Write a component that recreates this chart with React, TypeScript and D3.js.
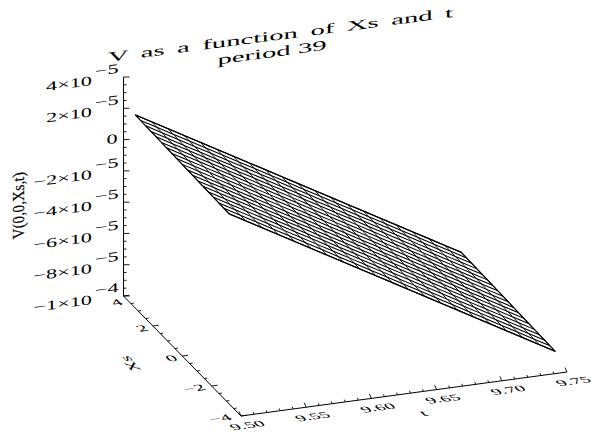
import React from "react";
import * as d3 from "d3";

const tGrid = [9.5, 9.5125, 9.525, 9.5375, 9.55, 9.5625, 9.575, 9.5875, 9.6, 9.6125, 9.625, 9.6375, 9.65, 9.6625, 9.675, 9.6875, 9.7, 9.7125, 9.725, 9.7375, 9.75];
const xsGrid = [3.2, 2.84, 2.49, 2.13, 1.78, 1.42, 1.07, 0.71, 0.36, 0, -0.36, -0.71, -1.07, -1.42, -1.78, -2.13, -2.49, -2.84, -3.2];
// V at Xs = 0 for each t, in units of 1e-6
const vMid = [22.5, 16.7, 10.9, 5.1, -0.7, -6.5, -12.3, -18.1, -23.9, -29.7, -35.5, -41.3, -47.1, -52.9, -58.7, -64.5, -70.3, -76.1, -81.9, -87.7, -93.5];
const vPerXs = 0.3; // 1e-6 per unit Xs

const vTicks = [40, 20, 0, -20, -40, -60, -80, -100];
const vMinor = [35, 30, 25, 15, 10, 5, -5, -10, -15, -25, -30, -35, -45, -50, -55, -65, -70, -75, -85, -90, -95];
const vMantissa = ["4", "2", "0", "\u22122", "\u22124", "\u22126", "\u22128", "\u22121"];
const vExponent = ["\u22125", "\u22125", "", "\u22125", "\u22125", "\u22125", "\u22125", "\u22124"];
const xsTicks = [4, 2, 0, -2, -4];
const xsMinor = [3.5, 3, 2.5, 1.5, 1, 0.5, -0.5, -1, -1.5, -2.5, -3, -3.5];
const xsLabels = ["4", "2", "0", "\u22122", "\u22124"];
const tTicks = [9.5, 9.55, 9.6, 9.65, 9.7, 9.75];
const tMinor = [9.51, 9.52, 9.53, 9.54, 9.56, 9.57, 9.58, 9.59, 9.61, 9.62, 9.63, 9.64, 9.66, 9.67, 9.68, 9.69, 9.71, 9.72, 9.73, 9.74];
const tLabels = ["9.50", "9.55", "9.60", "9.65", "9.70", "9.75"];

const FONT = "'Liberation Serif', serif";
const originX = 123.5;
const originY = 296;

// axis vectors of the oblique projection
const tPx = d3.scaleLinear().domain([9.5, 9.75]).range([0, 326]);
const tPy = d3.scaleLinear().domain([9.5, 9.75]).range([0, -44]);
const xsPx = d3.scaleLinear().domain([4, -4]).range([0, 117.5]);
const xsPy = d3.scaleLinear().domain([4, -4]).range([0, 120]);
const vPy = d3.scaleLinear().domain([-100, 40]).range([0, -219]);

const project = (t: number, xs: number, v: number): [number, number] => [
  originX + tPx(t) + xsPx(xs),
  originY + tPy(t) + xsPy(xs) + vPy(v),
];

const line = d3.line<[number, number]>();
const vAt = (i: number, xs: number) => vMid[i] + vPerXs * xs;

const longLines = xsGrid.map((xs) => tGrid.map((t, i) => project(t, xs, vAt(i, xs))));
const crossLines = tGrid.map((t, i) => xsGrid.map((xs) => project(t, xs, vAt(i, xs))));
const outline = [
  ...longLines[0],
  ...[...longLines[longLines.length - 1]].reverse(),
];
const rim = [...longLines[0], ...[...longLines[longLines.length - 1]].reverse(), longLines[0][0]];

const SLOPE = -0.135;

function Floor({ x, y, text, size = 13.5 }: { x: number; y: number; text: string; size?: number }) {
  // text lying on the t-Xs floor plane: baseline follows t, uprights follow Xs
  const m = `matrix(1.45,${1.45 * SLOPE},0.62,0.62,${x},${y})`;
  return (
    <text transform={m} fontFamily={FONT} fontSize={size} textAnchor="middle" fill="#000">
      {text}
    </text>
  );
}

export default function App() {
  const stroke = "#000";
  const xTick = (t: number, xs: number, len: number) => {
    const [a, b] = project(t, xs, -100);
    return <line key={`x${t}${xs}`} x1={a} y1={b} x2={a + len * 0.99} y2={b + len * SLOPE} stroke={stroke} strokeWidth={0.9} />;
  };
  const tTick = (t: number, len: number) => {
    const [a, b] = project(t, -4, -100);
    return <line key={`t${t}`} x1={a} y1={b} x2={a - len * 0.4} y2={b - len * 0.9} stroke={stroke} strokeWidth={0.9} />;
  };
  const vTick = (v: number, len: number) => {
    const [a, b] = project(9.5, 4, v);
    return <line key={`v${v}`} x1={a} y1={b} x2={a + len} y2={b} stroke={stroke} strokeWidth={0.9} />;
  };
  const p0 = project(9.5, 4, -100);
  const p1 = project(9.5, -4, -100);
  const p2 = project(9.75, -4, -100);
  const p3 = project(9.5, 4, 40);
  return (
    <svg width={594} height={433} style={{ position: "absolute", left: 0, top: 0, background: "#fff" }}>
      {/* title */}
      <text transform="matrix(2.05,-0.267,0,1,108,62)" fontFamily={FONT} fontSize={14} wordSpacing={2.6} fill="#000">
        V as a function of Xs and t
      </text>
      <text transform="matrix(2.05,-0.285,0,1,272,57)" fontFamily={FONT} fontSize={14} textAnchor="middle" fill="#000">
        period 39
      </text>

      {/* surface */}
      <path d={line(outline as [number, number][]) + "Z"} fill="#fff" stroke="none" />
      {longLines.map((l, i) => (
        <path key={`l${i}`} d={line(l) ?? ""} fill="none" stroke="#000" strokeWidth={1.05} />
      ))}
      {crossLines.map((l, i) => (
        <path key={`c${i}`} d={line(l) ?? ""} fill="none" stroke="#000" strokeWidth={0.9} />
      ))}
      <path d={line(rim) ?? ""} fill="none" stroke="#000" strokeWidth={1.2} />

      {/* axes */}
      <path d={line([p3, p0, p1, p2]) ?? ""} fill="none" stroke="#000" strokeWidth={1} />
      {vTicks.map((v) => vTick(v, 6))}
      {vMinor.map((v) => vTick(v, 3))}
      {xsTicks.map((x) => xTick(9.5, x, 6))}
      {xsMinor.map((x) => xTick(9.5, x, 3))}
      {tTicks.map((t) => tTick(t, 5))}
      {tMinor.map((t) => tTick(t, 2.5))}

      {/* V labels */}
      {vTicks.map((v, i) => {
        const [, y] = project(9.5, 4, v);
        const base = y + 8;
        return (
          <g key={`vl${v}`}>
            {vExponent[i] ? (
              <>
                <text transform={`matrix(1.65,${1.65 * SLOPE},0,1,92,${base})`} fontFamily={FONT} fontSize={13.5} textAnchor="end" fill="#000">
                  {`${vMantissa[i]}\u00d710`}
                </text>
                <text transform={`matrix(1.65,${1.65 * SLOPE},0,1,95,${base - 9})`} fontFamily={FONT} fontSize={13.5} fill="#000">
                  {vExponent[i]}
                </text>
              </>
            ) : (
              <text transform={`matrix(1.65,${1.65 * SLOPE},0,1,112,${base - 4})`} fontFamily={FONT} fontSize={13.5} textAnchor="middle" fill="#000">
                {vMantissa[i]}
              </text>
            )}
          </g>
        );
      })}

      {/* Xs labels */}
      {xsTicks.map((x, i) => {
        const [a, b] = project(9.5, x, -100);
        const dx = x === 4 ? -4 : x === 2 || x === 0 ? -8 : x === -2 ? -15 : -18;
        const dy = x === 4 ? 9 : 5;
        return <Floor key={`xl${x}`} x={a + dx} y={b + dy} text={xsLabels[i]} />;
      })}

      {/* t labels */}
      {tTicks.map((t, i) => {
        const [a, b] = project(t, -4, -100);
        return <Floor key={`tl${t}`} x={a + 9} y={b + 12} text={tLabels[i]} size={13} />;
      })}

      {/* axis titles */}
      <text transform="matrix(-0.85,-0.95,1,-0.13,135,363)" fontFamily={FONT} fontSize={14} textAnchor="middle" fill="#000">
        {"Xs"}
      </text>
      <text transform="matrix(1.5,-0.2,0.62,0.62,426,416)" fontFamily={FONT} fontSize={13.5} textAnchor="middle" fill="#000">
        t
      </text>
      <text transform="matrix(0,-0.92,1.05,-0.13,24,205)" fontFamily={FONT} fontSize={16} textAnchor="middle" fill="#000" stroke="#000" strokeWidth={0.2}>
        {"V(0,0,Xs,t)"}
      </text>
    </svg>
  );
}
